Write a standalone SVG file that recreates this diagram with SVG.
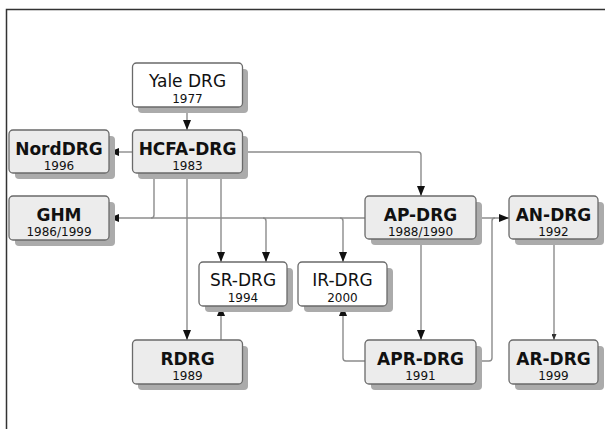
<svg xmlns="http://www.w3.org/2000/svg" width="605" height="429" viewBox="0 0 605 429">
<defs>
<style>
.sh{fill:#ababab;}
.bw{fill:#ffffff;stroke:#6a6a6a;stroke-width:1.3;}
.bg{fill:#ececec;stroke:#6a6a6a;stroke-width:1.3;}
.t{font-family:"DejaVu Sans",Verdana,sans-serif;fill:#111;text-anchor:middle;}
.tb{font-size:17px;font-weight:bold;}
.tr{font-size:17px;}
.y{font-size:12px;}
.c{fill:none;stroke:#8c8c8c;stroke-width:1.4;}
</style>
<marker id="ah" markerUnits="userSpaceOnUse" markerWidth="10" markerHeight="8" viewBox="0 0 10 8" refX="10" refY="4" orient="auto">
<path d="M0,0 L10,4 L0,8 Z" fill="#111"/>
</marker>
<marker id="as" markerUnits="userSpaceOnUse" markerWidth="6" markerHeight="5" viewBox="0 0 6 5" refX="6" refY="2.5" orient="auto">
<path d="M0,0 L6,2.5 L0,5 Z" fill="#333"/>
</marker>
</defs>
<rect width="605" height="429" fill="#fff"/>
<path d="M6.5,429 V9.5 H605" fill="none" stroke="#333" stroke-width="1.5"/>

<g id="connectors">
<path class="c" d="M187,107 V130" marker-end="url(#ah)"/>
<path class="c" d="M133,152 H109" marker-end="url(#ah)"/>
<path class="c" d="M242,152 H418 Q421,152 421,155 V196" marker-end="url(#ah)"/>
<path class="c" d="M154,173 V215 Q154,218 151,218"/>
<path class="c" d="M365,218 H109" marker-end="url(#ah)"/>
<path class="c" d="M187,173 V340" marker-end="url(#ah)"/>
<path class="c" d="M221,173 V262" marker-end="url(#ah)"/>
<path class="c" d="M263,218 Q266,218 266,221 V262" marker-end="url(#ah)"/>
<path class="c" d="M340,218 Q343,218 343,221 V262" marker-end="url(#ah)"/>
<path class="c" d="M421,239 V340" marker-end="url(#ah)"/>
<path class="c" d="M476,218 H509" marker-end="url(#ah)"/>
<path class="c" d="M476,361 H489 Q492,361 492,358 V221 Q492,218 495,218"/>
<path class="c" d="M365,361 H346 Q343,361 343,358 V306" marker-end="url(#ah)"/>
<path class="c" d="M221,340 V306" marker-end="url(#ah)"/>
<path class="c" d="M554,239 V340" marker-end="url(#as)"/>
</g>

<g id="yale">
<rect class="sh" x="138" y="69" width="110" height="44" rx="4"/>
<rect class="bw" x="132.5" y="63" width="110" height="44" rx="4"/>
<text class="t tr" x="187.5" y="87">Yale DRG</text>
<text class="t y" x="187.5" y="103">1977</text>
</g>
<g id="hcfa">
<rect class="sh" x="138" y="136" width="110" height="43" rx="4"/>
<rect class="bg" x="132.5" y="130" width="110" height="43" rx="4"/>
<text class="t tb" x="187.5" y="155">HCFA-DRG</text>
<text class="t y" x="187.5" y="170">1983</text>
</g>
<g id="nord">
<rect class="sh" x="15" y="136" width="100" height="43" rx="4"/>
<rect class="bg" x="9" y="130" width="100" height="43" rx="4"/>
<text class="t tb" x="59" y="155">NordDRG</text>
<text class="t y" x="59" y="170">1996</text>
</g>
<g id="ghm">
<rect class="sh" x="15" y="202" width="100" height="44" rx="4"/>
<rect class="bg" x="9" y="196" width="100" height="44" rx="4"/>
<text class="t tb" x="59" y="221">GHM</text>
<text class="t y" x="59" y="236">1986/1999</text>
</g>
<g id="apdrg">
<rect class="sh" x="371" y="202" width="111" height="43" rx="4"/>
<rect class="bg" x="365" y="196" width="111" height="43" rx="4"/>
<text class="t tb" x="420.5" y="221">AP-DRG</text>
<text class="t y" x="420.5" y="236">1988/1990</text>
</g>
<g id="andrg">
<rect class="sh" x="515" y="202" width="89" height="43" rx="4"/>
<rect class="bg" x="509" y="196" width="89" height="43" rx="4"/>
<text class="t tb" x="553.5" y="221">AN-DRG</text>
<text class="t y" x="553.5" y="236">1992</text>
</g>
<g id="srdrg">
<rect class="sh" x="205" y="268" width="88" height="44" rx="4"/>
<rect class="bw" x="199" y="262" width="88" height="44" rx="4"/>
<text class="t tr" x="243" y="286">SR-DRG</text>
<text class="t y" x="243" y="302">1994</text>
</g>
<g id="irdrg">
<rect class="sh" x="304" y="268" width="89" height="44" rx="4"/>
<rect class="bw" x="298" y="262" width="89" height="44" rx="4"/>
<text class="t tr" x="342.5" y="286">IR-DRG</text>
<text class="t y" x="342.5" y="302">2000</text>
</g>
<g id="rdrg">
<rect class="sh" x="138" y="346" width="110" height="44" rx="4"/>
<rect class="bg" x="132.5" y="340" width="110" height="44" rx="4"/>
<text class="t tb" x="187.5" y="365">RDRG</text>
<text class="t y" x="187.5" y="380">1989</text>
</g>
<g id="aprdrg">
<rect class="sh" x="371" y="346" width="111" height="44" rx="4"/>
<rect class="bg" x="365" y="340" width="111" height="44" rx="4"/>
<text class="t tb" x="420.5" y="365">APR-DRG</text>
<text class="t y" x="420.5" y="380">1991</text>
</g>
<g id="ardrg">
<rect class="sh" x="515" y="346" width="89" height="44" rx="4"/>
<rect class="bg" x="509" y="340" width="89" height="44" rx="4"/>
<text class="t tb" x="553.5" y="365">AR-DRG</text>
<text class="t y" x="553.5" y="380">1999</text>
</g>
</svg>
